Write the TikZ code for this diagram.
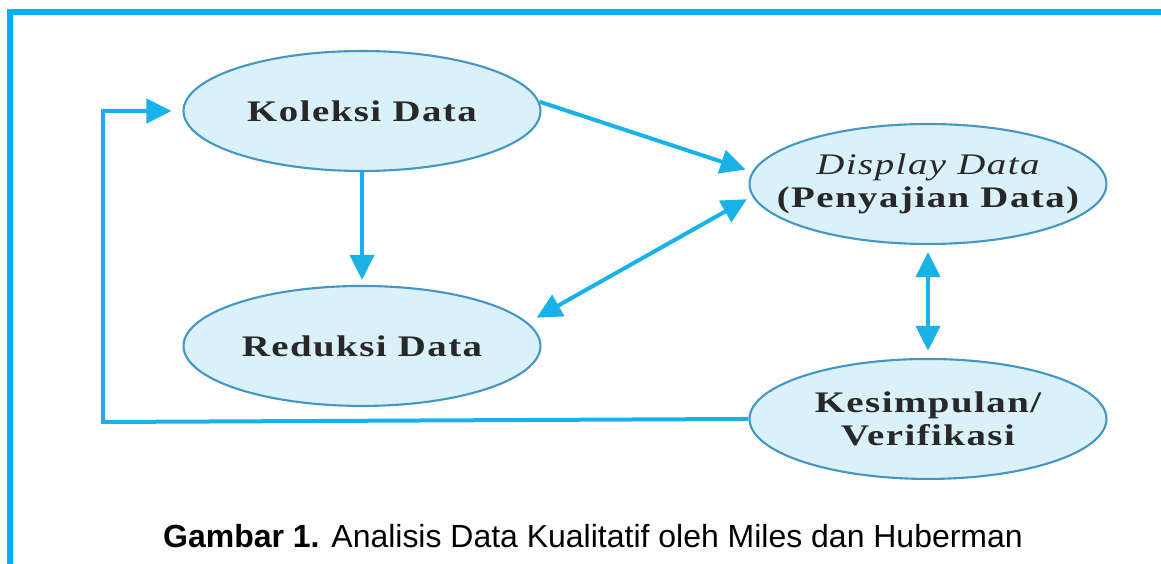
\documentclass[tikz,border=0pt]{standalone}
\usepackage{fontspec}
\setsansfont{Liberation Sans}
\newfontfamily\ellfont[FakeStretch=1.3,LetterSpace=5]{Liberation Serif}
\usetikzlibrary{shapes.geometric,arrows.meta,positioning}
\definecolor{linecyan}{RGB}{0,176,240}
\definecolor{arrowblue}{RGB}{25,178,232}
\definecolor{ellfill}{RGB}{218,241,250}
\definecolor{elldraw}{RGB}{70,150,195}
\definecolor{elltext}{RGB}{40,40,40}
\tikzstyle{stage} = [ellipse, minimum width=7.14cm, minimum height=2.4cm, inner xsep=-1.6cm, inner ysep=0pt, draw=elldraw, line width=1.2pt, fill=ellfill, text=elltext, align=center, font=\ellfont\bfseries\fontsize{17}{19}\selectfont]
\tikzstyle{arrow} = [line width=0.08cm, draw=arrowblue, -{Triangle[length=0.5cm,width=0.48cm]}]
\tikzstyle{dblarrow} = [arrow, {Triangle[length=0.5cm,width=0.48cm]}-{Triangle[length=0.5cm,width=0.48cm]}]

\begin{document}
\begin{tikzpicture}[x=0.02cm, y=-0.02cm]
\useasboundingbox (0,0) rectangle (1161,564);

% frame
\draw [linecyan, line width=0.12cm] (7,12) -- (1161,12);
\draw [linecyan, line width=0.12cm] (10,9) -- (10,564);

\node (koleksi) [stage] at (362,111) {Koleksi Data};
\node (reduksi) [stage, below of=koleksi, node distance=4.7cm] {Reduksi Data};
\node (display) [stage] at (928,184) {{\itshape\mdseries Display Data}\\(Penyajian Data)};
\node (kesimpulan) [stage, below of=display, node distance=4.7cm] {Kesimpulan/\\Verifikasi};

\coordinate (corner) at (103,422);

%arrows
\draw [arrow, shorten >=0.1cm] (koleksi) -- (reduksi);
\draw [arrow, shorten >=0.14cm] (koleksi.3) -- (display.176);
\draw [dblarrow, shorten >=0.12cm, shorten <=0.2cm] (reduksi.8) -- (display.184);
\draw [dblarrow, shorten >=0.14cm, shorten <=0.14cm] (display) -- (kesimpulan);
\draw [arrow, shorten >=0.22cm] (kesimpulan.west) -- (corner) |- (koleksi.west);

\node (caption) [anchor=base, font=\sffamily\fontsize{18.2}{22}\selectfont] at (593,547) {\textbf{Gambar 1.} Analisis Data Kualitatif oleh Miles dan Huberman};
\end{tikzpicture}
\end{document}
